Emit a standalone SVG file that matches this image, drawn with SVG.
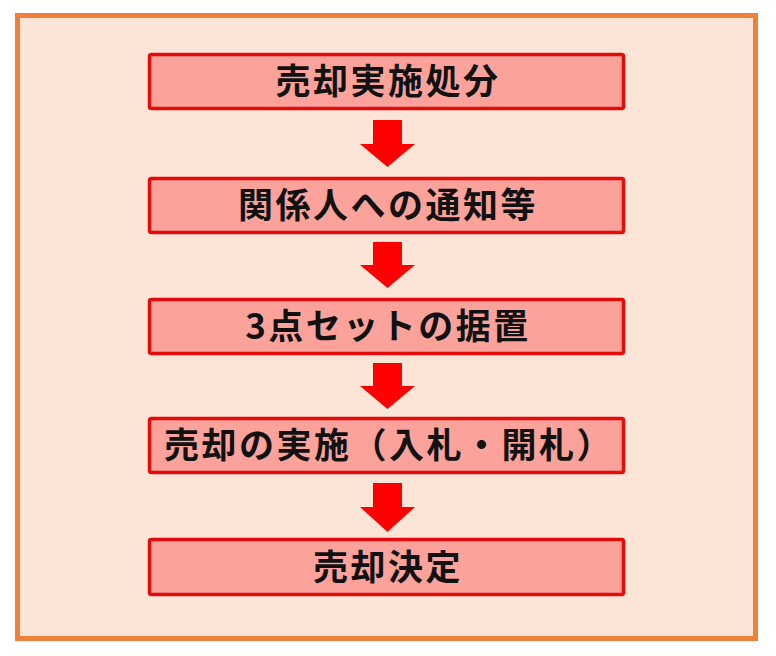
<svg xmlns="http://www.w3.org/2000/svg" width="776" height="656" viewBox="0 0 776 656">
<style>
.frame{fill:#fce4d6;stroke:#ec813b;stroke-width:5}
.box{fill:#fba39b;stroke:#e30b0b;stroke-width:3.5}
.lbl{font-family:"Noto Sans CJK JP","Noto Sans CJK SC",sans-serif;font-weight:bold;font-size:35px;fill:#111;letter-spacing:2.5px}
.arr{fill:#ff0000}
</style>
<rect width="776" height="656" fill="#ffffff"/>
<rect class="frame" x="17.5" y="15.5" width="738" height="623"/>
<g id="connectors">
<polygon class="arr" points="373,120 402,120 402,144 415,144 387.5,167 360,144 373,144"/>
<polygon class="arr" points="373,242 402,242 402,265 415,265 387.5,288 360,265 373,265"/>
<polygon class="arr" points="373,363 402,363 402,386 415,386 387.5,409 360,386 373,386"/>
<polygon class="arr" points="373,483 402,483 402,507 415,507 387.5,532 360,507 373,507"/>
</g>
<g id="node1">
<rect class="box" x="149.5" y="54.5" width="474" height="54" rx="2"/>
<text class="lbl" x="388" y="94" text-anchor="middle">売却実施処分</text>
</g>
<g id="node2">
<rect class="box" x="149.5" y="178.5" width="474" height="54" rx="2"/>
<text class="lbl" x="388" y="218" text-anchor="middle">関係人への通知等</text>
</g>
<g id="node3">
<rect class="box" x="149.5" y="299.5" width="474" height="54" rx="2"/>
<text class="lbl" x="388" y="339" text-anchor="middle">3点セットの据置</text>
</g>
<g id="node4">
<rect class="box" x="149.5" y="418.5" width="474" height="54" rx="2"/>
<text class="lbl" x="164" y="458">売却の実施（入札・開札）</text>
</g>
<g id="node5">
<rect class="box" x="149.5" y="539.5" width="474" height="55" rx="2"/>
<text class="lbl" x="388" y="579.5" text-anchor="middle">売却決定</text>
</g>
</svg>
